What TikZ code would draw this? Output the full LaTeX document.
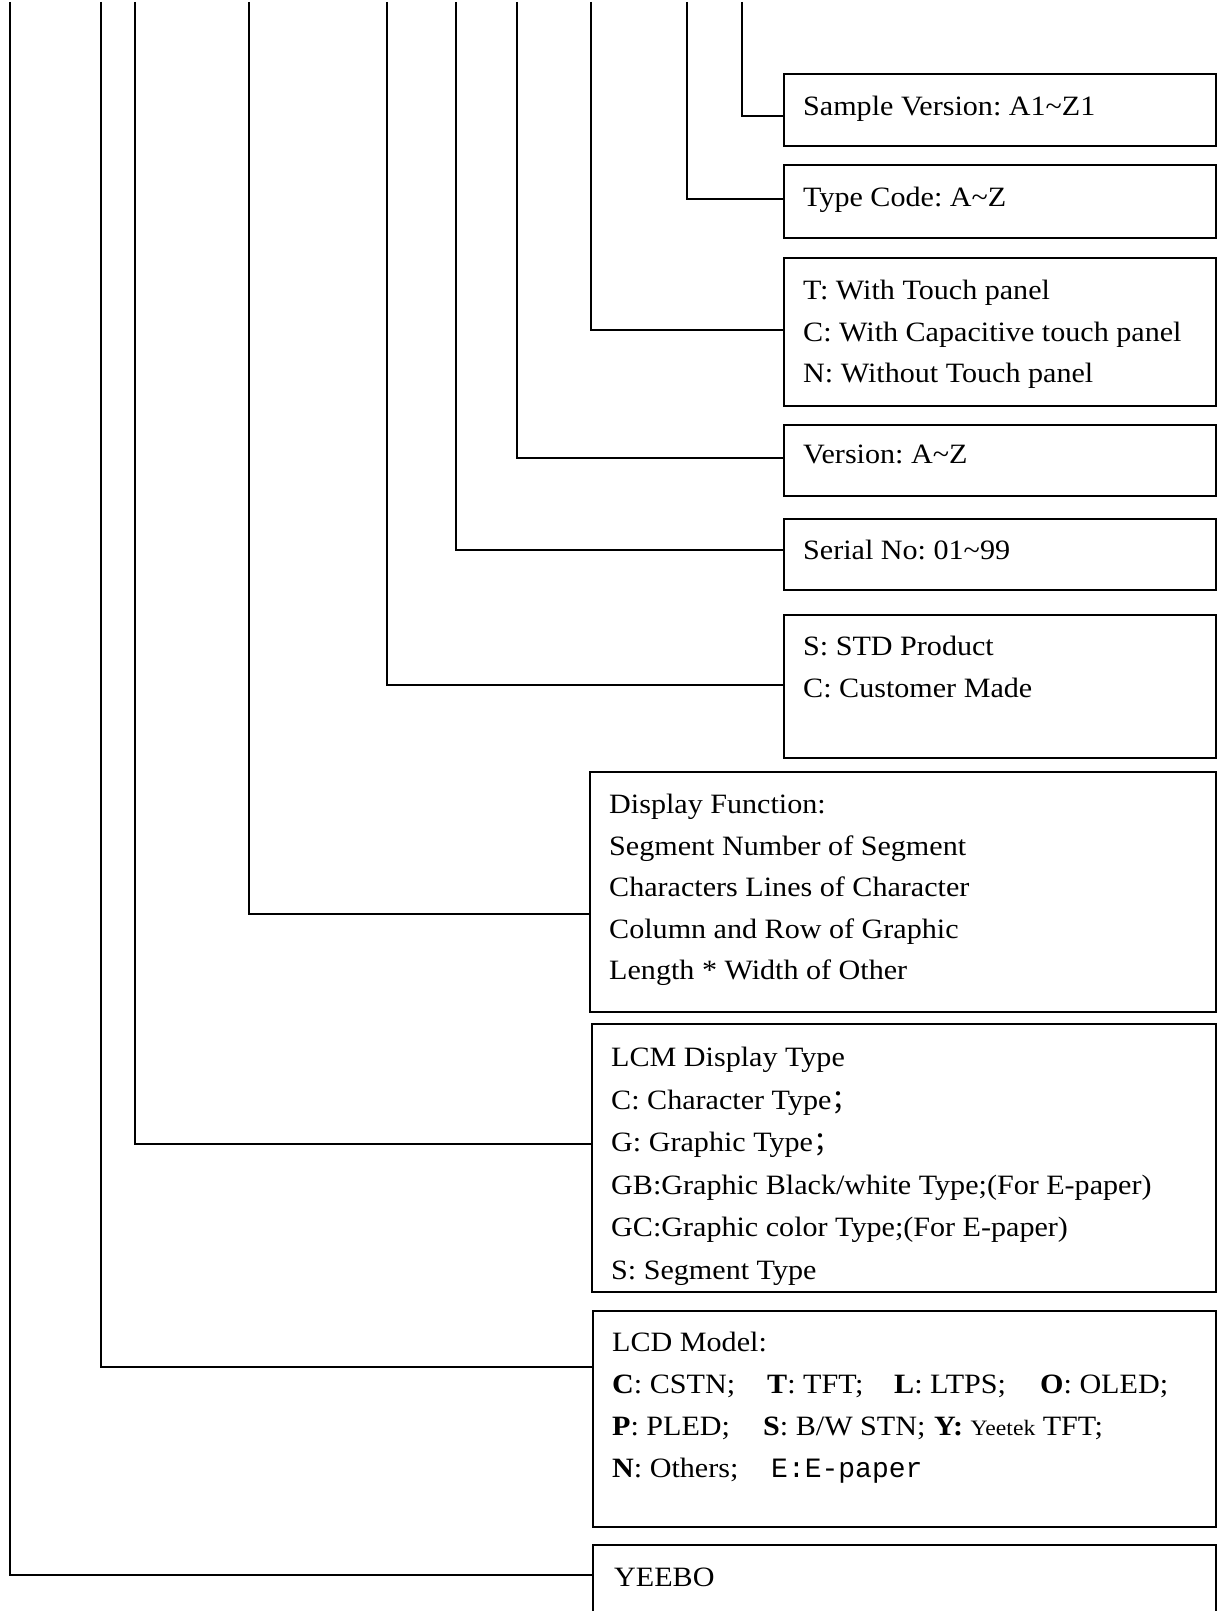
\documentclass[tikz,border=0pt]{standalone}
\usepackage{fontspec}
\setmainfont{Liberation Serif}[FakeStretch=1.075]
\newfontfamily\cjkfont{Noto Sans CJK SC}
\newfontfamily\monofont{Liberation Mono}
\frenchspacing
\tikzset{
  codebox/.style={draw, line width=1.6pt, anchor=north west, inner sep=0pt},
  codetext/.style={anchor=north west, inner sep=0pt, align=left, font=\fontsize{28}{41.5}\selectfont},
  link/.style={line width=1.4pt},
}

\begin{document}
\begin{tikzpicture}[x=1pt, y=-1pt]
        \useasboundingbox (0,0) rectangle (1218,1611);
        \node[codebox, minimum width=432pt, minimum height=72pt] (sample) at (783,73) {};
        \node[codebox, minimum width=432pt, minimum height=73pt] (typecode) at (783,164) {};
        \node[codebox, minimum width=432pt, minimum height=148pt] (touch) at (783,257) {};
        \node[codebox, minimum width=432pt, minimum height=71pt] (version) at (783,424) {};
        \node[codebox, minimum width=432pt, minimum height=71pt] (serial) at (783,518) {};
        \node[codebox, minimum width=432pt, minimum height=143pt] (product) at (783,614) {};
        \node[codebox, minimum width=626pt, minimum height=240pt] (function) at (589,771) {};
        \node[codebox, minimum width=624pt, minimum height=268pt] (lcmtype) at (591,1023) {};
        \node[codebox, minimum width=623pt, minimum height=216pt] (lcdmodel) at (592,1310) {};
        \node[codebox, minimum width=623pt, minimum height=100pt] (brand) at (592,1544) {};

        \node[codetext] (sampletext) at ([xshift=20pt,yshift=-23pt]sample.north west) {Sample Version: A1\textasciitilde Z1};
        \node[codetext] (typecodetext) at ([xshift=20pt,yshift=-23pt]typecode.north west) {Type Code: A\textasciitilde Z};
        \node[codetext] (touchtext) at ([xshift=20pt,yshift=-23pt]touch.north west) {T: With Touch panel\\C: With Capacitive touch panel\\N: Without Touch panel};
        \node[codetext] (versiontext) at ([xshift=20pt,yshift=-21pt]version.north west) {Version: A\textasciitilde Z};
        \node[codetext] (serialtext) at ([xshift=20pt,yshift=-22pt]serial.north west) {Serial No: 01\textasciitilde 99};
        \node[codetext] (producttext) at ([xshift=20pt,yshift=-22pt]product.north west) {S: STD Product\\C: Customer Made};
        \node[codetext] (functiontext) at ([xshift=20pt,yshift=-23pt]function.north west) {Display Function:\\Segment Number of Segment\\Characters Lines of Character\\Column and Row of Graphic\\Length * Width of Other};
        \node[codetext, font=\fontsize{28}{42.5}\selectfont] (lcmtypetext) at ([xshift=20pt,yshift=-24pt]lcmtype.north west) {LCM Display Type\\C: Character Type{\cjkfont ；}\\G: Graphic Type{\cjkfont ；}\\GB:Graphic Black/white Type;(For E-paper)\\GC:Graphic color Type;(For E-paper)\\S: Segment Type};
        \node[codetext, font=\fontsize{28}{42}\selectfont] (lcdmodeltext) at ([xshift=20pt,yshift=-22pt]lcdmodel.north west) {LCD Model:\\
          \makebox[155pt][l]{\textbf{C}: CSTN;}\makebox[127pt][l]{\textbf{T}: TFT;}\makebox[146pt][l]{\textbf{L}: LTPS;}\textbf{O}: OLED;\\
          \makebox[151pt][l]{\textbf{P}: PLED;}\makebox[171pt][l]{\textbf{S}: B/W STN;}\textbf{Y:} {\fontsize{22}{22}\selectfont Yeetek} TFT;\\
          \makebox[159pt][l]{\textbf{N}: Others;}{\monofont E:E-paper}};
        \node[codetext] (brandtext) at ([xshift=22pt,yshift=-24pt]brand.north west) {YEEBO};

        \foreach \bx/\x/\dy in {sample/742/43, typecode/687/35, touch/591/73, version/517/34, serial/456/32,
            product/387/71, function/249/143, lcmtype/135/121, lcdmodel/101/57, brand/10/31} {
          \coordinate (\bx-top) at (\x,2);
          \path (\bx.north west) ++(0,\dy) coordinate (\bx-in);
          \draw[link] (\bx-top) |- (\bx-in);
        }
\end{tikzpicture}
\end{document}
